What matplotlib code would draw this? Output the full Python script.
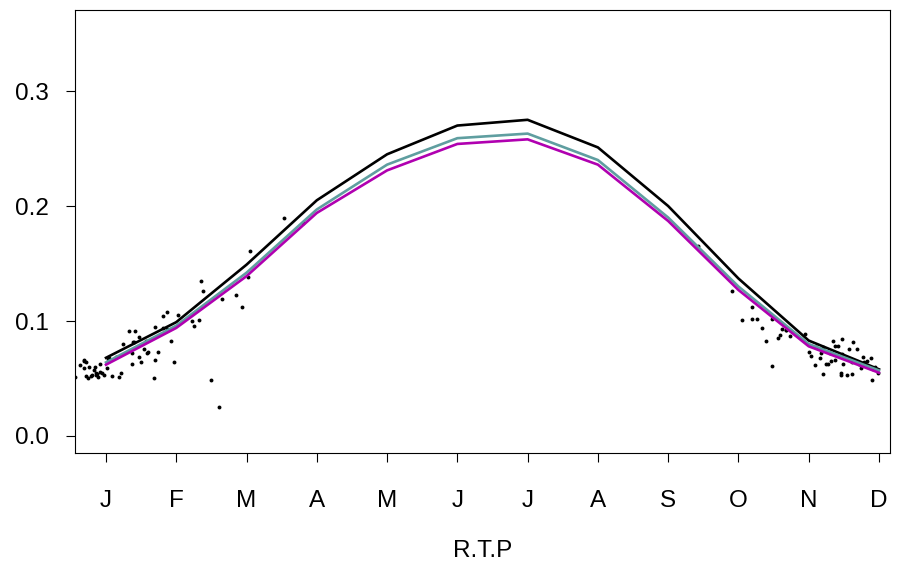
import numpy as np
import matplotlib
matplotlib.use("Agg")
from matplotlib import pyplot as plt

plt.rcParams["font.family"] = ["Liberation Sans", "DejaVu Sans"]

months = np.arange(1, 13)
month_labels = ["J", "F", "M", "A", "M", "J", "J", "A", "S", "O", "N", "D"]

# monthly curves
black_vals = [0.068, 0.099, 0.149, 0.205, 0.245, 0.270, 0.275, 0.251, 0.200, 0.137, 0.083, 0.058]
teal_vals = [0.064, 0.096, 0.142, 0.197, 0.236, 0.259, 0.263, 0.240, 0.190, 0.130, 0.080, 0.057]
magenta_vals = [0.062, 0.094, 0.139, 0.194, 0.231, 0.254, 0.258, 0.236, 0.187, 0.127, 0.078, 0.055]

# daily points (month position, value)
pts_x = [0.56, 0.63, 0.68, 0.69, 0.72, 0.68, 0.71, 0.74, 0.76, 0.79, 0.80, 0.83, 0.84,
         0.87, 0.86, 0.88, 0.86, 0.91, 0.92, 0.94, 0.97, 1.01, 1.03, 1.04, 1.09, 1.14,
         1.18, 1.21, 1.24, 1.33, 1.41, 1.38, 1.40, 1.47, 1.37, 1.37, 1.47, 1.50, 1.54,
         1.58, 1.60, 1.57, 1.68, 1.70, 1.70, 1.74, 1.81, 1.87, 1.81, 1.87, 1.92, 1.97,
         2.02, 2.22, 2.25, 2.32, 2.35, 2.38, 2.49, 2.61, 2.65, 2.85, 2.93, 3.02, 3.05,
         3.53, 3.80]
pts_y = [0.051, 0.062, 0.066, 0.065, 0.064, 0.059, 0.052, 0.050, 0.060, 0.052, 0.053,
         0.057, 0.060, 0.054, 0.055, 0.051, 0.053, 0.063, 0.056, 0.055, 0.053, 0.059,
         0.067, 0.068, 0.052, 0.069, 0.051, 0.055, 0.080, 0.091, 0.091, 0.082, 0.082,
         0.086, 0.072, 0.063, 0.069, 0.064, 0.076, 0.072, 0.073, 0.083, 0.050, 0.066,
         0.095, 0.073, 0.104, 0.108, 0.094, 0.093, 0.083, 0.064, 0.105, 0.100, 0.096,
         0.101, 0.135, 0.126, 0.049, 0.025, 0.119, 0.123, 0.112, 0.138, 0.161, 0.190,
         0.185]

pts2_x = [9.42, 9.91, 10.19, 10.05, 10.27, 10.34, 10.19, 10.48, 10.39, 10.56, 10.59,
          10.62, 10.67, 10.68, 10.74, 10.48, 10.95, 11.00, 11.03, 11.10, 11.09, 11.16,
          11.18, 11.21, 11.21, 11.25, 11.28, 11.32, 11.35, 11.38, 11.41, 11.46, 11.48,
          11.49, 11.46, 11.54, 11.58, 11.60, 11.62, 11.63, 11.48, 11.61, 11.69, 11.72,
          11.75, 11.77, 11.79, 11.83, 11.89, 11.90, 11.92, 11.94, 11.99, 11.37, 11.30]
pts2_y = [0.165, 0.126, 0.112, 0.101, 0.102, 0.094, 0.102, 0.102, 0.083, 0.085, 0.088,
          0.093, 0.092, 0.092, 0.087, 0.061, 0.089, 0.073, 0.070, 0.077, 0.062, 0.068,
          0.072, 0.054, 0.077, 0.063, 0.063, 0.065, 0.083, 0.078, 0.078, 0.053, 0.084,
          0.063, 0.055, 0.053, 0.076, 0.065, 0.054, 0.082, 0.071, 0.064, 0.076, 0.063,
          0.059, 0.069, 0.064, 0.065, 0.068, 0.049, 0.058, 0.060, 0.055, 0.066, 0.072]

fig = plt.figure(figsize=(9.01, 5.65), dpi=100)
ax = fig.add_axes([75 / 901, 112 / 565, 815 / 901, 443 / 565])

ax.plot(pts_x, pts_y, "o", color="black", markersize=2.8, markeredgewidth=0)
ax.plot(pts2_x, pts2_y, "o", color="black", markersize=2.8, markeredgewidth=0)
ax.plot(months, black_vals, color="black", lw=1.9)
ax.plot(months, teal_vals, color="#5f9ea0", lw=1.9)
ax.plot(months, magenta_vals, color="#b000b0", lw=1.9)

ax.set_xlim(0.559, 12.157)
ax.set_ylim(-0.0148, 0.3705)
ax.set_xticks(months)
ax.set_xticklabels(month_labels)
ax.set_yticks([0.0, 0.1, 0.2, 0.3])
ax.set_yticklabels(["0.0", "0.1", "0.2", "0.3"])
ax.tick_params(axis="x", length=6.5, width=0.8, pad=20, labelsize=17.5)
ax.tick_params(axis="y", length=6.5, width=0.8, pad=12, labelsize=17.5)
for s in ax.spines.values():
    s.set_linewidth(0.8)
ax.set_xlabel("R.T.P", fontsize=17.5, labelpad=20)

fig.savefig("out.png", dpi=100)
